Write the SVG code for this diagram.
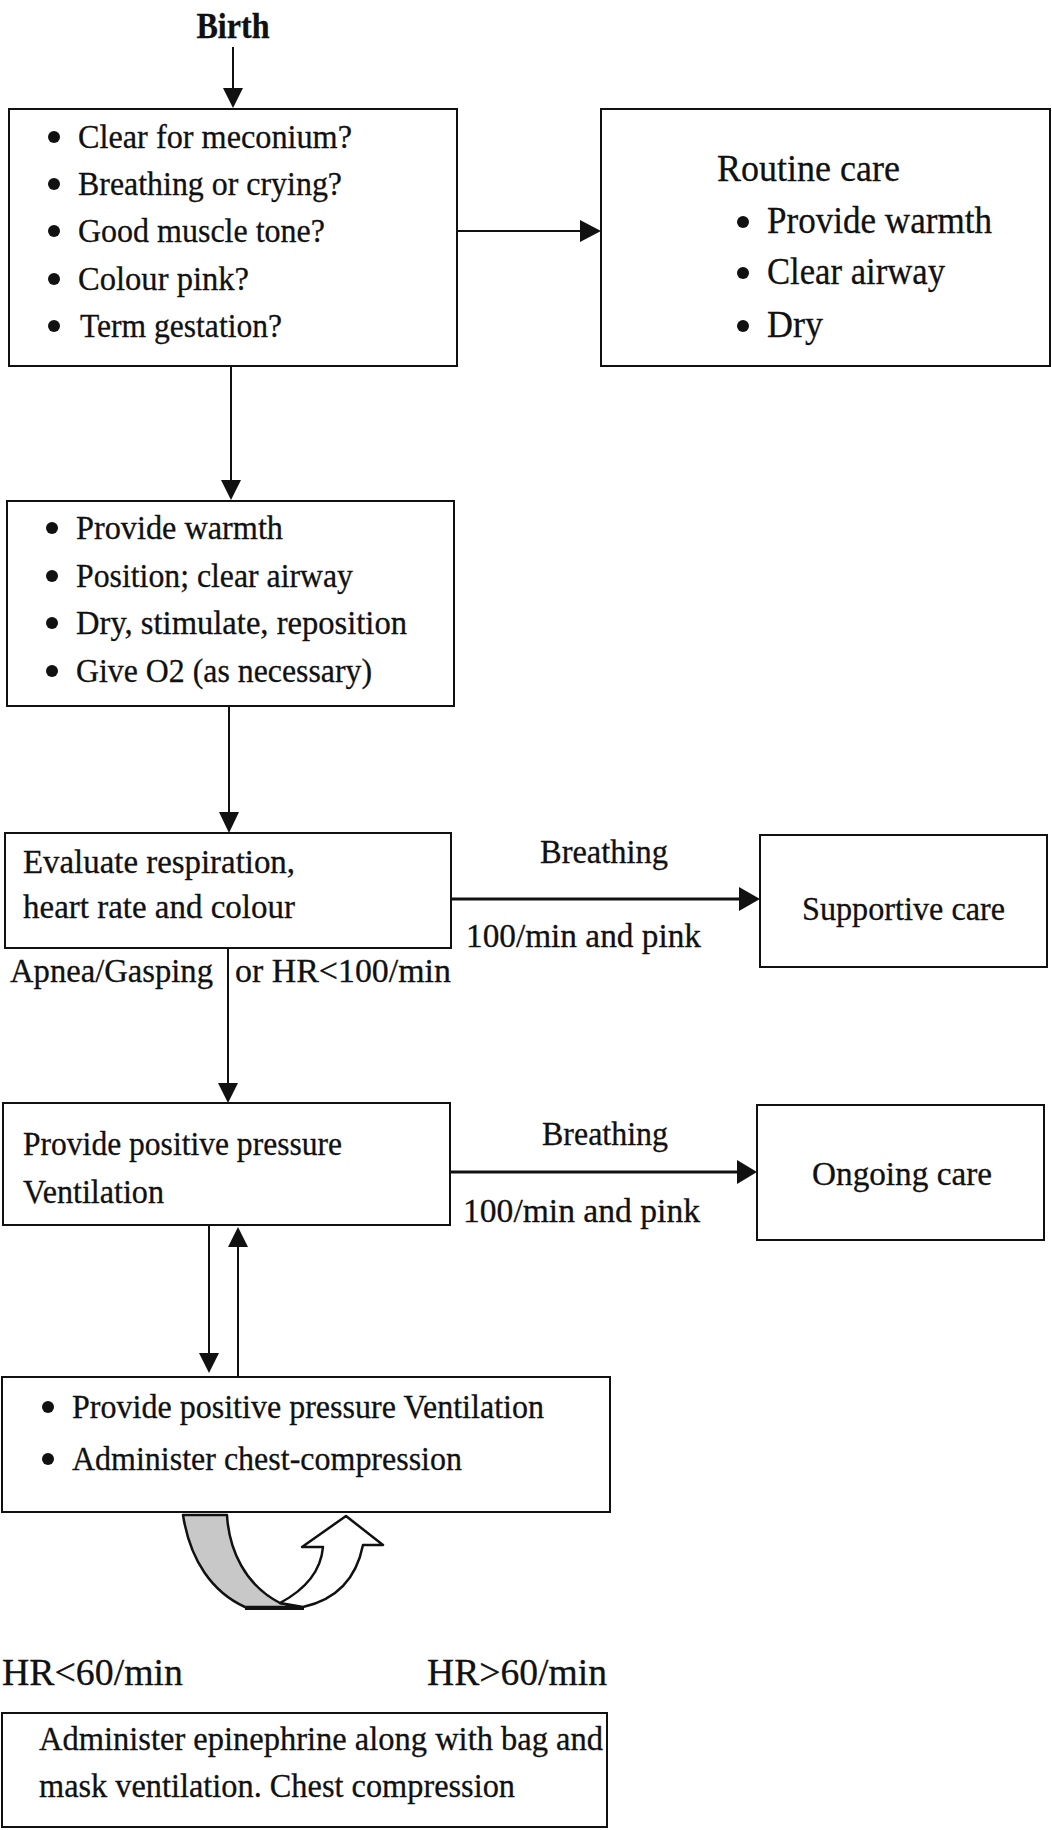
<svg xmlns="http://www.w3.org/2000/svg" width="1052" height="1830" viewBox="0 0 1052 1830">
  <style>
    .box { fill: #ffffff; stroke: #111111; stroke-width: 2; }
    .t { font-family: "Liberation Serif", "Times New Roman", serif; font-size: 34px; fill: #111111; stroke: #111111; stroke-width: 0.3; }
    .big { font-size: 38px; }
    .hr { font-size: 38px; }
    .bold { font-weight: bold; font-size: 35px; }
    .dot { fill: #111111; }
    .wire { stroke: #111111; stroke-width: 2; fill: none; }
    .thick { stroke-width: 3; }
    .head { fill: #111111; }
  </style>
  <rect x="0" y="0" width="1052" height="1830" fill="#ffffff"/>

  <!-- Connectors -->
  <g id="connectors">
    <line class="wire" x1="233" y1="47" x2="233" y2="92"/>
    <polygon class="head" points="223,88 243,88 233,108"/>

    <line class="wire" x1="457" y1="231" x2="584" y2="231"/>
    <polygon class="head" points="580,220 580,242 601,231"/>

    <line class="wire" x1="231" y1="366" x2="231" y2="484"/>
    <polygon class="head" points="221,480 241,480 231,500"/>

    <line class="wire" x1="229" y1="706" x2="229" y2="816"/>
    <polygon class="head" points="219,812 239,812 229,833"/>

    <line class="wire thick" x1="451" y1="899" x2="742" y2="899"/>
    <polygon class="head" points="739,887 739,911 760,899"/>

    <line class="wire" x1="228" y1="948" x2="228" y2="1086"/>
    <polygon class="head" points="218,1083 238,1083 228,1103"/>

    <line class="wire thick" x1="450" y1="1172" x2="740" y2="1172"/>
    <polygon class="head" points="737,1160 737,1184 757,1172"/>

    <line class="wire" x1="209" y1="1225" x2="209" y2="1356"/>
    <polygon class="head" points="199,1353 219,1353 209,1373"/>

    <line class="wire" x1="238" y1="1377" x2="238" y2="1244"/>
    <polygon class="head" points="228,1247 248,1247 238,1227"/>
  </g>

  <!-- Start label -->
  <g id="birth">
    <text class="t bold" x="233" y="38" text-anchor="middle" textLength="73" lengthAdjust="spacingAndGlyphs">Birth</text>
  </g>

  <!-- Initial assessment -->
  <g id="assessment">
    <rect class="box" x="9" y="109" width="448" height="257"/>
    <circle class="dot" cx="54" cy="137" r="6"/>
    <text class="t" x="78" y="148" textLength="274" lengthAdjust="spacingAndGlyphs">Clear for meconium?</text>
    <circle class="dot" cx="54" cy="184" r="6"/>
    <text class="t" x="78" y="195" textLength="264" lengthAdjust="spacingAndGlyphs">Breathing or crying?</text>
    <circle class="dot" cx="54" cy="231" r="6"/>
    <text class="t" x="78" y="242" textLength="247" lengthAdjust="spacingAndGlyphs">Good muscle tone?</text>
    <circle class="dot" cx="54" cy="279" r="6"/>
    <text class="t" x="78" y="290" textLength="171" lengthAdjust="spacingAndGlyphs">Colour pink?</text>
    <circle class="dot" cx="54" cy="326" r="6"/>
    <text class="t" x="80" y="337" textLength="202" lengthAdjust="spacingAndGlyphs">Term gestation?</text>
  </g>

  <!-- Routine care -->
  <g id="routine-care">
    <rect class="box" x="601" y="109" width="449" height="257"/>
    <text class="t big" x="717" y="181" textLength="183" lengthAdjust="spacingAndGlyphs">Routine care</text>
    <circle class="dot" cx="743" cy="222" r="6"/>
    <text class="t big" x="767" y="233" textLength="225" lengthAdjust="spacingAndGlyphs">Provide warmth</text>
    <circle class="dot" cx="743" cy="273" r="6"/>
    <text class="t big" x="767" y="284" textLength="178" lengthAdjust="spacingAndGlyphs">Clear airway</text>
    <circle class="dot" cx="743" cy="326" r="6"/>
    <text class="t big" x="767" y="337" textLength="56" lengthAdjust="spacingAndGlyphs">Dry</text>
  </g>

  <!-- Initial steps -->
  <g id="initial-steps">
    <rect class="box" x="7" y="501" width="447" height="205"/>
    <circle class="dot" cx="52" cy="528" r="6"/>
    <text class="t" x="76" y="539" textLength="207" lengthAdjust="spacingAndGlyphs">Provide warmth</text>
    <circle class="dot" cx="52" cy="576" r="6"/>
    <text class="t" x="76" y="587" textLength="277" lengthAdjust="spacingAndGlyphs">Position; clear airway</text>
    <circle class="dot" cx="52" cy="623" r="6"/>
    <text class="t" x="76" y="634" textLength="331" lengthAdjust="spacingAndGlyphs">Dry, stimulate, reposition</text>
    <circle class="dot" cx="52" cy="671" r="6"/>
    <text class="t" x="76" y="682" textLength="296" lengthAdjust="spacingAndGlyphs">Give O2 (as necessary)</text>
  </g>

  <!-- Evaluation -->
  <g id="evaluate">
    <rect class="box" x="5" y="833" width="446" height="115"/>
    <text class="t" x="23" y="873" textLength="272" lengthAdjust="spacingAndGlyphs">Evaluate respiration,</text>
    <text class="t" x="23" y="918" textLength="272" lengthAdjust="spacingAndGlyphs">heart rate and colour</text>
  </g>

  <g id="labels-evaluate">
    <text class="t" x="540" y="863" textLength="128" lengthAdjust="spacingAndGlyphs">Breathing</text>
    <text class="t" x="466" y="947" textLength="235" lengthAdjust="spacingAndGlyphs">100/min and pink</text>
    <text class="t" x="10" y="982" textLength="203" lengthAdjust="spacingAndGlyphs">Apnea/Gasping</text>
    <text class="t" x="235" y="982" textLength="216" lengthAdjust="spacingAndGlyphs">or HR&lt;100/min</text>
  </g>

  <!-- Supportive care -->
  <g id="supportive-care">
    <rect class="box" x="760" y="835" width="287" height="132"/>
    <text class="t" x="802" y="920" textLength="203" lengthAdjust="spacingAndGlyphs">Supportive care</text>
  </g>

  <!-- Positive pressure ventilation -->
  <g id="ppv">
    <rect class="box" x="3" y="1103" width="447" height="122"/>
    <text class="t" x="23" y="1155" textLength="319" lengthAdjust="spacingAndGlyphs">Provide positive pressure</text>
    <text class="t" x="23" y="1203" textLength="141" lengthAdjust="spacingAndGlyphs">Ventilation</text>
  </g>

  <g id="labels-ppv">
    <text class="t" x="542" y="1145" textLength="126" lengthAdjust="spacingAndGlyphs">Breathing</text>
    <text class="t" x="463" y="1222" textLength="237" lengthAdjust="spacingAndGlyphs">100/min and pink</text>
  </g>

  <!-- Ongoing care -->
  <g id="ongoing-care">
    <rect class="box" x="757" y="1105" width="287" height="135"/>
    <text class="t" x="812" y="1185" textLength="180" lengthAdjust="spacingAndGlyphs">Ongoing care</text>
  </g>

  <!-- PPV with chest compression -->
  <g id="ppv-compression">
    <rect class="box" x="2" y="1377" width="608" height="135"/>
    <circle class="dot" cx="48" cy="1407" r="6"/>
    <text class="t" x="72" y="1418" textLength="472" lengthAdjust="spacingAndGlyphs">Provide positive pressure Ventilation</text>
    <circle class="dot" cx="48" cy="1459" r="6"/>
    <text class="t" x="72" y="1470" textLength="390" lengthAdjust="spacingAndGlyphs">Administer chest-compression</text>
  </g>

  <!-- U-turn arrow: shaded descending half, open ascending half -->
  <g id="loop-arrow" stroke="#111111" stroke-width="2.5" stroke-linejoin="round">
    <path fill="#c8c8c8" d="M183,1515 L227,1515 C229,1550 245,1585 280,1603 L300,1607 L245,1607 C212,1592 190,1560 183,1515 Z"/>
    <path fill="#ffffff" d="M280,1603 C308,1588 321,1570 323,1547 L302,1547 L346,1516 L383,1545 L363,1545 C356,1580 335,1600 303,1607 Z"/>
    <line x1="245" y1="1608" x2="304" y2="1608" stroke-width="4"/>
  </g>

  <g id="labels-hr">
    <text class="t hr" x="2" y="1685" textLength="181" lengthAdjust="spacingAndGlyphs">HR&lt;60/min</text>
    <text class="t hr" x="427" y="1685" textLength="180" lengthAdjust="spacingAndGlyphs">HR&gt;60/min</text>
  </g>

  <!-- Epinephrine -->
  <g id="epinephrine">
    <rect class="box" x="2" y="1713" width="605" height="114"/>
    <text class="t" x="39" y="1750" textLength="564" lengthAdjust="spacingAndGlyphs">Administer epinephrine along with bag and</text>
    <text class="t" x="39" y="1797" textLength="476" lengthAdjust="spacingAndGlyphs">mask ventilation. Chest compression</text>
  </g>
</svg>
